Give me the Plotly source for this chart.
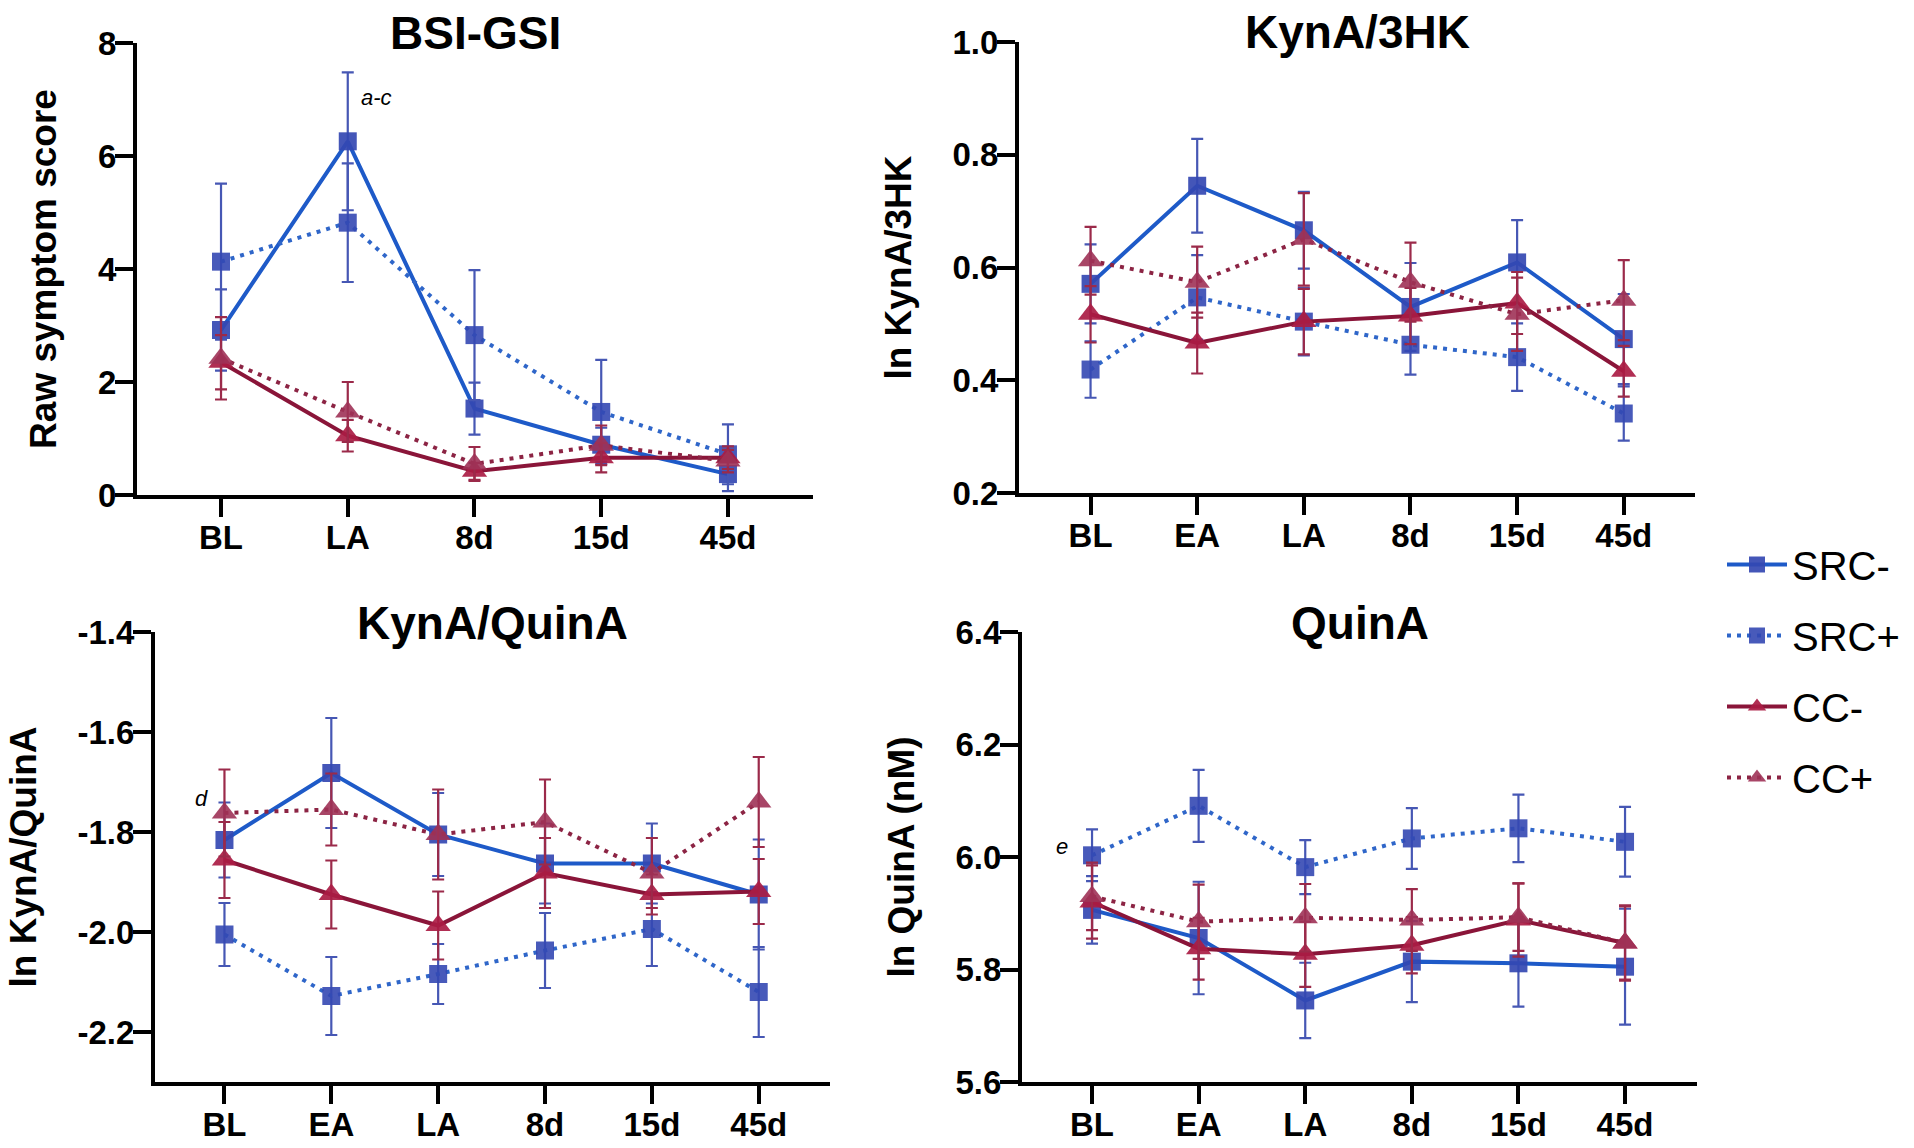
import plotly.graph_objects as go

# ---------------- data ----------------
series_names = ["SRC-", "SRC+", "CC-", "CC+"]

bsi_cats = ["BL", "LA", "8d", "15d", "45d"]
bsi_src_neg = [2.92, 6.26, 1.53, 0.89, 0.37]
bsi_src_neg_err = [0.72, 1.22, 0.46, 0.30, 0.30]
bsi_src_pos = [4.13, 4.82, 2.83, 1.47, 0.72]
bsi_src_pos_err = [1.38, 1.05, 1.15, 0.92, 0.53]
bsi_cc_neg = [2.35, 1.05, 0.42, 0.66, 0.66]
bsi_cc_neg_err = [0.48, 0.28, 0.15, 0.26, 0.20]
bsi_cc_pos = [2.42, 1.47, 0.55, 0.88, 0.60]
bsi_cc_pos_err = [0.73, 0.53, 0.30, 0.35, 0.20]

time_cats = ["BL", "EA", "LA", "8d", "15d", "45d"]

k3_src_neg = [0.571, 0.745, 0.666, 0.530, 0.609, 0.473]
k3_src_neg_err = [0.070, 0.083, 0.068, 0.078, 0.075, 0.080]
k3_src_pos = [0.419, 0.547, 0.504, 0.463, 0.441, 0.341]
k3_src_pos_err = [0.050, 0.075, 0.060, 0.053, 0.060, 0.048]
k3_cc_neg = [0.517, 0.466, 0.504, 0.514, 0.537, 0.416]
k3_cc_neg_err = [0.050, 0.054, 0.058, 0.050, 0.055, 0.045]
k3_cc_pos = [0.612, 0.574, 0.650, 0.574, 0.517, 0.542]
k3_cc_pos_err = [0.060, 0.063, 0.082, 0.070, 0.065, 0.071]

kq_src_neg = [-1.816, -1.682, -1.805, -1.863, -1.863, -1.925]
kq_src_neg_err = [0.075, 0.110, 0.083, 0.080, 0.080, 0.110]
kq_src_pos = [-2.005, -2.128, -2.084, -2.037, -1.994, -2.120]
kq_src_pos_err = [0.063, 0.078, 0.060, 0.075, 0.074, 0.090]
kq_cc_neg = [-1.856, -1.925, -1.987, -1.882, -1.925, -1.919]
kq_cc_neg_err = [0.076, 0.068, 0.068, 0.070, 0.040, 0.065]
kq_cc_pos = [-1.762, -1.755, -1.805, -1.780, -1.882, -1.740]
kq_cc_pos_err = [0.087, 0.072, 0.090, 0.085, 0.070, 0.090]

qa_src_neg = [5.906, 5.856, 5.745, 5.814, 5.811, 5.805]
qa_src_neg_err = [0.060, 0.100, 0.067, 0.072, 0.077, 0.103]
qa_src_pos = [6.003, 6.091, 5.982, 6.033, 6.051, 6.027]
qa_src_pos_err = [0.046, 0.064, 0.048, 0.054, 0.060, 0.062]
qa_cc_neg = [5.920, 5.837, 5.827, 5.843, 5.888, 5.847]
qa_cc_neg_err = [0.065, 0.055, 0.058, 0.050, 0.065, 0.067]
qa_cc_pos = [5.930, 5.885, 5.892, 5.888, 5.893, 5.847]
qa_cc_pos_err = [0.060, 0.066, 0.060, 0.055, 0.060, 0.065]

panel_titles = ["BSI-GSI", "KynA/3HK", "KynA/QuinA", "QuinA"]
y_titles = ["Raw symptom score", "ln KynA/3HK", "ln KynA/QuinA", "ln QuinA (nM)"]
y_tickvals = [[0, 2, 4, 6, 8], [0.2, 0.4, 0.6, 0.8, 1.0],
              [-2.2, -2.0, -1.8, -1.6, -1.4], [5.6, 5.8, 6.0, 6.2, 6.4]]
y_ticktext = [["0", "2", "4", "6", "8"], ["0.2", "0.4", "0.6", "0.8", "1.0"],
              ["-2.2", "-2.0", "-1.8", "-1.6", "-1.4"], ["5.6", "5.8", "6.0", "6.2", "6.4"]]
y_ranges = [[0, 8], [0.2, 1.0], [-2.3, -1.4], [5.6, 6.4]]

panel_data = [
    (bsi_cats, [(bsi_src_neg, bsi_src_neg_err), (bsi_src_pos, bsi_src_pos_err),
                (bsi_cc_neg, bsi_cc_neg_err), (bsi_cc_pos, bsi_cc_pos_err)]),
    (time_cats, [(k3_src_neg, k3_src_neg_err), (k3_src_pos, k3_src_pos_err),
                 (k3_cc_neg, k3_cc_neg_err), (k3_cc_pos, k3_cc_pos_err)]),
    (time_cats, [(kq_src_neg, kq_src_neg_err), (kq_src_pos, kq_src_pos_err),
                 (kq_cc_neg, kq_cc_neg_err), (kq_cc_pos, kq_cc_pos_err)]),
    (time_cats, [(qa_src_neg, qa_src_neg_err), (qa_src_pos, qa_src_pos_err),
                 (qa_cc_neg, qa_cc_neg_err), (qa_cc_pos, qa_cc_pos_err)]),
]

# ---------------- styles ----------------
W, H = 1914, 1148
styles = [
    dict(line=dict(color="#1E5AC8", width=4), sym="square", mcol="rgba(52,72,178,0.92)", ecol="#4657B4", msize=18),
    dict(line=dict(color="#2F66C9", width=4, dash="4px,6px"), sym="square", mcol="rgba(52,72,178,0.9)", ecol="#4657B4", msize=18),
    dict(line=dict(color="#8A1539", width=4), sym="triangle-up", mcol="rgba(170,28,68,0.92)", ecol="#9B2A4A", msize=22),
    dict(line=dict(color="#8C2444", width=4, dash="4px,6px"), sym="triangle-up", mcol="rgba(158,50,86,0.9)", ecol="#9B2A4A", msize=22),
]

# domains in pixels (left, right, top, bottom)
px_dom = [(137, 813, 43, 495), (1019, 1695, 42, 493), (155, 830, 632, 1082), (1022, 1697, 632, 1082)]
x_ranges = [[-0.663, 4.671], [-0.671, 5.668], [-0.65, 5.667], [-0.657, 5.675]]
title_y_px = [33, 32, 623, 623]

FONT = "Liberation Sans, Arial, sans-serif"

fig = go.Figure()
for p, (cats, sers) in enumerate(panel_data):
    xa = "x" if p == 0 else f"x{p+1}"
    ya = "y" if p == 0 else f"y{p+1}"
    for s in [0, 1, 2, 3]:
        vals, errs = sers[s]
        st = styles[s]
        fig.add_trace(go.Scatter(
            x=cats, y=vals, xaxis=xa, yaxis=ya,
            name=series_names[s], legendgroup=series_names[s], legendrank=s + 1,
            showlegend=(p == 0),
            mode="lines+markers",
            line=st["line"],
            marker=dict(symbol=st["sym"], size=st["msize"], color=st["mcol"], line=dict(width=0)),
            error_y=dict(type="data", array=errs, visible=True, color=st["ecol"], thickness=2.2, width=6),
        ))

layout = dict(
    width=W, height=H, margin=dict(l=0, r=0, t=0, b=0, autoexpand=False),
    paper_bgcolor="white", plot_bgcolor="white",
    font=dict(family=FONT, color="black"),
    legend=dict(x=1722 / W, xanchor="left", y=1 - 532 / H, yanchor="top",
                font=dict(family=FONT, size=40, color="black"),
                tracegroupgap=16, bgcolor="rgba(0,0,0,0)", itemwidth=60),
    annotations=[],
)

for p in range(4):
    l, r, t, b = px_dom[p]
    xk = "xaxis" if p == 0 else f"xaxis{p+1}"
    yk = "yaxis" if p == 0 else f"yaxis{p+1}"
    ya = "y" if p == 0 else f"y{p+1}"
    xa = "x" if p == 0 else f"x{p+1}"
    cats = panel_data[p][0]
    layout[xk] = dict(
        domain=[l / W, r / W], anchor=ya, type="category", automargin=False,
        categoryorder="array", categoryarray=cats, range=x_ranges[p],
        showline=True, linecolor="black", linewidth=4, showgrid=False, zeroline=False,
        ticks="outside", ticklen=18, tickwidth=4, tickcolor="black",
        ticklabelstandoff=-8,
        tickfont=dict(family=FONT, size=33, color="black", weight="bold"),
    )
    layout[yk] = dict(
        domain=[1 - b / H, 1 - t / H], anchor=xa, range=y_ranges[p], automargin=False,
        tickmode="array", tickvals=y_tickvals[p], ticktext=y_ticktext[p],
        showline=True, linecolor="black", linewidth=4, showgrid=False, zeroline=False,
        ticks="outside", ticklen=18, tickwidth=4, tickcolor="black",
        ticklabelstandoff=-8,
        tickfont=dict(family=FONT, size=33, color="black", weight="bold"),
        title=dict(text=y_titles[p], standoff=31,
                   font=dict(family=FONT, size=37, color="black", weight="bold")),
    )
    layout["annotations"].append(dict(
        xref="paper", yref="paper", x=(l + r) / 2 / W, y=1 - title_y_px[p] / H,
        xanchor="center", yanchor="middle", showarrow=False, text=panel_titles[p],
        font=dict(family=FONT, size=46, color="black", weight="bold"),
    ))

# small significance annotations
layout["annotations"] += [
    dict(xref="x", yref="y", x="LA", y=7.03, xshift=29, text="a-c", showarrow=False,
         font=dict(family=FONT, size=22, color="black", style="italic")),
    dict(xref="x3", yref="y3", x="BL", y=-1.732, xshift=-23, text="d", showarrow=False,
         font=dict(family=FONT, size=22, color="black", style="italic")),
    dict(xref="x4", yref="y4", x="BL", y=6.018, xshift=-30, text="e", showarrow=False,
         font=dict(family=FONT, size=22, color="black", style="italic")),
]

fig.update_layout(**layout)
fig.write_html("out.html", config={"displayModeBar": False},
               post_script="document.body.style.margin='0';")
